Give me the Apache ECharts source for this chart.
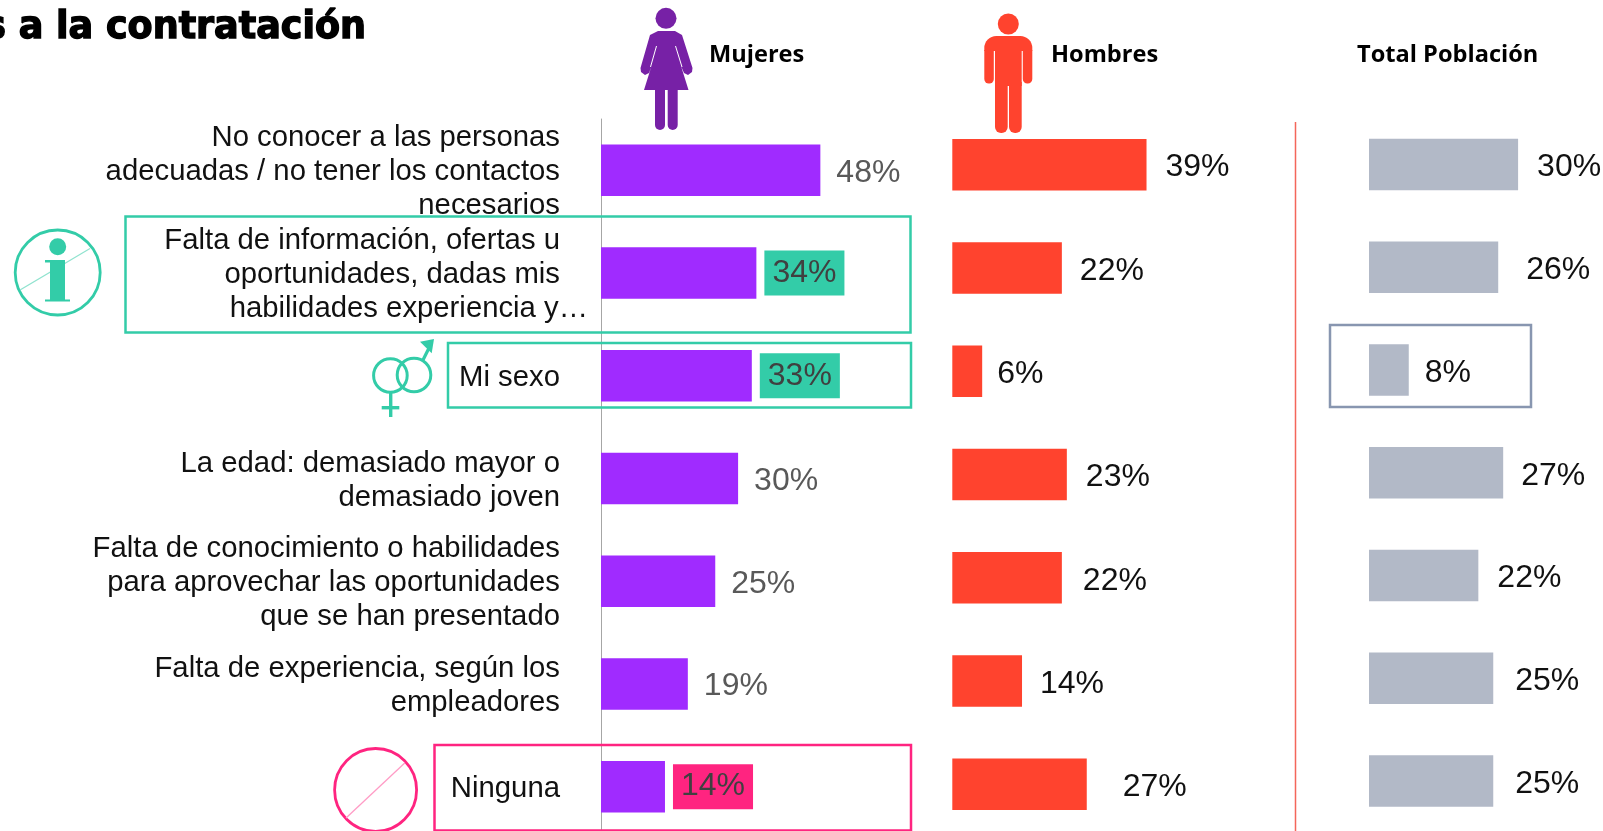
<!DOCTYPE html>
<html>
<head>
<meta charset="utf-8">
<title>Barreras a la contratación</title>
<script src="https://cdn.jsdelivr.net/npm/echarts@6/dist/echarts.min.js"></script>
<style>
  html, body { margin: 0; padding: 0; background: #fff; overflow: hidden; }
  #chart { width: 1603px; height: 831px; }
</style>
</head>
<body>
<div id="chart"></div>
<script>
const categorias = [
  'No conocer a las personas\nadecuadas / no tener los contactos\nnecesarios',
  'Falta de información, ofertas u\noportunidades, dadas mis\nhabilidades experiencia y…',
  'Mi sexo',
  'La edad: demasiado mayor o\ndemasiado joven',
  'Falta de conocimiento o habilidades\npara aprovechar las oportunidades\nque se han presentado',
  'Falta de experiencia, según los\nempleadores',
  'Ninguna'
];
const mujeres = [48, 34, 33, 30, 25, 19, 14];
const hombres = [39, 22, 6, 23, 22, 14, 27];
const total = [30, 26, 8, 27, 22, 25, 25];

const morado = '#A02BFF', rojo = '#FF432E', gris = '#B2B9C7';
const verde = '#33CCA8', rosa = '#FF2480', azul = '#8896B0', violeta = '#7721A6';
const arial = '"Liberation Sans", Arial, sans-serif';
const opens = '"Open Sans", sans-serif';

// separation of each value label from its bar
const gapHombres = [19, 18, 15, 19, 21, 18, 36];
const gapTotal = [19, 28, 16, 18, 19, 22, 22];
const fondoMujeres = { 1: verde, 2: verde, 6: rosa };

function etiqueta (value) {
  return value + '%';
}

function datosMujeres () {
  return mujeres.map((v, i) => {
    const fondo = fondoMujeres[i];
    if (!fondo) return { value: v, label: { distance: 16, offset: [0, 2.5] } };
    return {
      value: v,
      label: {
        distance: 8,
        color: '#404040',
        backgroundColor: fondo,
        padding: [11, 8, 2, 8]
      }
    };
  });
}

function datosConGap (values, gaps) {
  return values.map((v, i) => ({ value: v, label: { distance: gaps[i], offset: [0, 3] } }));
}

function serie (idx, color, data, labelColor) {
  return {
    type: 'bar',
    xAxisIndex: idx,
    yAxisIndex: idx,
    barWidth: 51.5,
    silent: true,
    itemStyle: { color: color },
    label: {
      show: true,
      position: 'right',
      fontFamily: arial,
      fontSize: 32,
      lineHeight: 32,
      color: labelColor,
      formatter: (p) => etiqueta(p.value)
    },
    data: data
  };
}

function yAxisOculto (idx) {
  return { gridIndex: idx, type: 'category', inverse: true, show: false, data: categorias };
}

function xAxisOculto (idx) {
  return { gridIndex: idx, type: 'value', min: 0, max: 100, show: false };
}

const relleno = (color) => ({ fill: color });

const mujerIcono = [
  { type: 'circle', shape: { cx: 666, cy: 18.3, r: 10.5 }, style: relleno(violeta) },
  { type: 'polygon', shape: { points: [[658, 31], [675, 31], [682, 35], [692.5, 68], [692, 72], [688, 75], [684, 73], [681, 66], [688.5, 90], [644, 90], [651.5, 66], [649, 73], [645, 75], [641, 72], [640.5, 68], [650, 35]] }, style: relleno(violeta) },
  { type: 'line', shape: { x1: 675.5, y1: 46, x2: 682, y2: 67 }, style: { stroke: '#fff', lineWidth: 1 } },
  { type: 'line', shape: { x1: 656.5, y1: 46, x2: 650.5, y2: 67 }, style: { stroke: '#fff', lineWidth: 1 } },
  { type: 'rect', shape: { x: 655, y: 88, width: 10, height: 42, r: [0, 0, 5, 5] }, style: relleno(violeta) },
  { type: 'rect', shape: { x: 667.7, y: 88, width: 10, height: 42, r: [0, 0, 5, 5] }, style: relleno(violeta) }
];

const hombreIcono = [
  { type: 'circle', shape: { cx: 1008.3, cy: 24, r: 10.5 }, style: relleno(rojo) },
  { type: 'rect', shape: { x: 984.3, y: 36, width: 48, height: 15, r: [12, 12, 0, 0] }, style: relleno(rojo) },
  { type: 'rect', shape: { x: 984.3, y: 50, width: 9.5, height: 33.5, r: [0, 0, 4.5, 4.5] }, style: relleno(rojo) },
  { type: 'rect', shape: { x: 1022.8, y: 50, width: 9.5, height: 33.5, r: [0, 0, 4.5, 4.5] }, style: relleno(rojo) },
  { type: 'rect', shape: { x: 995, y: 50, width: 26.7, height: 36 }, style: relleno(rojo) },
  { type: 'rect', shape: { x: 995, y: 82, width: 12.7, height: 51, r: [0, 0, 6, 6] }, style: relleno(rojo) },
  { type: 'rect', shape: { x: 1009, y: 82, width: 12.7, height: 51, r: [0, 0, 6, 6] }, style: relleno(rojo) }
];

const caja = (x, y, w, h, color) => ({
  type: 'rect',
  z: 5,
  shape: { x: x, y: y, width: w, height: h },
  style: { fill: 'none', stroke: color, lineWidth: 2.5 }
});

const raya = (x1, y1, x2, y2, color, w) => ({
  type: 'line',
  shape: { x1: x1, y1: y1, x2: x2, y2: y2 },
  style: { stroke: color, lineWidth: w }
});

const aro = (cx, cy, r, color, w) => ({
  type: 'circle',
  shape: { cx: cx, cy: cy, r: r },
  style: { fill: 'none', stroke: color, lineWidth: w }
});

const infoIcono = [
  aro(57.7, 272.5, 42.5, verde, 2.8),
  raya(20, 290, 90, 248.5, '#90E3CF', 1.3),
  { type: 'circle', shape: { cx: 57.7, cy: 246.7, r: 8.5 }, style: relleno(verde) },
  { type: 'polygon', shape: { points: [[45, 260], [65, 260], [65, 299.5], [70, 299.5], [70, 301.5], [45, 301.5], [45, 299.5], [50, 299.5], [50, 262.5], [45, 262.5]] }, style: relleno(verde) }
];

const sexoIcono = [
  aro(390.4, 375.5, 16.8, verde, 3),
  aro(414, 375, 16.8, verde, 3),
  raya(390.7, 393, 390.7, 417, verde, 3.4),
  raya(381.7, 407.7, 399.3, 407.7, verde, 3.4),
  raya(423, 360, 430, 346, verde, 3.2),
  { type: 'polygon', shape: { points: [[420, 341.7], [434, 339], [431.7, 353.3]] }, style: relleno(verde) }
];

const ningunaIcono = [
  { type: 'ellipse', shape: { cx: 375.6, cy: 790, rx: 41, ry: 41.5 }, style: { fill: 'none', stroke: rosa, lineWidth: 2.8 } },
  raya(346, 818, 405, 762.7, '#FF9CC6', 1.3)
];

const texto = (x, y, t, font, size, align, extra) => ({
  type: 'text',
  x: x,
  y: y,
  style: Object.assign({
    text: t,
    fontFamily: font,
    fontSize: size,
    fontWeight: 'bold',
    fill: '#000',
    align: align || 'left',
    verticalAlign: 'middle'
  }, extra || {})
});

const option = {
  animation: false,
  backgroundColor: '#fff',
  grid: [
    { left: 601, top: 119, width: 457, height: 719, outerBoundsMode: 'none' },
    { left: 952.3, top: 113, width: 498, height: 723, outerBoundsMode: 'none' },
    { left: 1369, top: 113, width: 497, height: 719.5, outerBoundsMode: 'none' }
  ],
  xAxis: [xAxisOculto(0), xAxisOculto(1), xAxisOculto(2)],
  yAxis: [
    {
      gridIndex: 0,
      type: 'category',
      inverse: true,
      data: categorias,
      axisTick: { show: false },
      axisLine: { lineStyle: { color: '#A6A6A6', width: 1 } },
      axisLabel: {
        margin: 13,
        align: 'right',
        interval: 0,
        padding: [4, 0, 0, 0],
        formatter: (value) => value.split('\n')
          .map((l) => (l.endsWith('…') ? '{b|' + l + '}' : '{a|' + l + '}'))
          .join('\n'),
        rich: {
          a: { fontFamily: arial, fontSize: 29.3, lineHeight: 34, color: '#111', padding: [0, 28, 0, 0] },
          b: { fontFamily: arial, fontSize: 29.3, lineHeight: 34, color: '#111' }
        }
      }
    },
    yAxisOculto(1),
    yAxisOculto(2)
  ],
  series: [
    serie(0, morado, datosMujeres(), '#595959'),
    serie(1, rojo, datosConGap(hombres, gapHombres), '#111'),
    serie(2, gris, datosConGap(total, gapTotal), '#111')
  ],
  graphic: { elements: [
    texto(366, 29, 's a la contratación', '"DejaVu Sans"', 36.5, 'right', { stroke: '#000', lineWidth: 1.4 }),
    texto(709, 55, 'Mujeres', opens, 23.6),
    texto(1051, 55, 'Hombres', opens, 23.6),
    texto(1357, 55, 'Total Población', opens, 23.6),
    ...mujerIcono,
    ...hombreIcono,
    raya(1295.5, 122, 1295.5, 831, '#F4665A', 1.5),
    caja(125.5, 216.5, 785, 116, verde),
    caja(448, 343, 463, 64.5, verde),
    caja(434.5, 745, 476.5, 85.5, rosa),
    caja(1330, 325, 201, 82, azul),
    ...infoIcono,
    ...sexoIcono,
    ...ningunaIcono
  ] }
};

const myChart = echarts.init(document.getElementById('chart'));
myChart.setOption(option);
</script>
</body>
</html>
